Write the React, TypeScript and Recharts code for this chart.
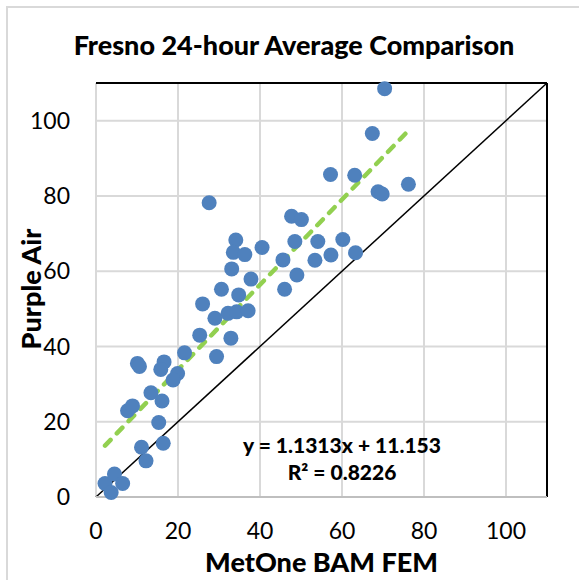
import React from 'react';
import {
  ScatterChart, Scatter, XAxis, YAxis, CartesianGrid, ReferenceLine,
} from 'recharts';

// MetOne BAM FEM (x) vs Purple Air (y), 24-hour averages
const bamFem = [
  2.2, 4.5, 3.7, 6.5, 11.1, 12.2, 16.4, 15.3, 7.7, 8.9,
  13.4, 16.1, 10.1, 10.6, 16.6, 15.8, 19.9, 18.8, 21.6, 25.3,
  29.4, 32.9, 27.6, 34.1, 33.5, 36.3, 40.5, 33.1, 37.8, 30.6,
  34.8, 26.0, 29.0, 32.2, 34.3, 37.1, 47.7, 50.1, 48.5, 54.1,
  45.6, 53.4, 57.3, 49.0, 46.0, 70.4, 67.4, 57.2, 63.1, 68.8,
  69.8, 76.2, 60.2, 63.3,
];
const purpleAir = [
  3.6, 6.1, 1.2, 3.6, 13.2, 9.6, 14.3, 19.8, 22.9, 24.2,
  27.7, 25.5, 35.5, 34.7, 35.9, 33.9, 32.8, 31.1, 38.3, 43.0,
  37.3, 42.2, 78.2, 68.3, 65.0, 64.4, 66.3, 60.6, 57.9, 55.2,
  53.7, 51.3, 47.5, 48.8, 49.2, 49.5, 74.6, 73.7, 67.9, 67.9,
  63.0, 62.9, 64.3, 59.0, 55.2, 108.5, 96.6, 85.7, 85.5, 81.1,
  80.5, 83.1, 68.4, 64.9,
];
const ticks = [0, 20, 40, 60, 80, 100];
const axisMax = 110;
const slope = 1.1313;
const intercept = 11.153;
const rSquared = 0.8226;

const points = bamFem.map((x, i) => ({ x, y: purpleAir[i] }));
const xMin = Math.min(...bamFem);
const xMax = Math.max(...bamFem);

const FONT = 'Lato, "Open Sans", sans-serif';

const Dot = (props: any) => (
  <circle cx={props.cx} cy={props.cy} r={7.5} fill="#4F81BD" />
);

export default function App() {
  return (
    <div style={{ position: 'absolute', left: 0, top: 0, width: 579, height: 580, background: '#fff', fontFamily: FONT, color: '#000' }}>
      <div style={{ position: 'absolute', left: 6, top: 6, width: 600, height: 600, borderTop: '2px solid #d9d9d9', borderLeft: '2px solid #d9d9d9' }} />
      <ScatterChart width={579} height={580} margin={{ top: 83, right: 32, bottom: 53, left: 0 }} style={{ position: 'absolute', left: 0, top: 0 }}>
        <CartesianGrid stroke="#d9d9d9" strokeWidth={2} />
        <XAxis
          type="number" dataKey="x" domain={[0, axisMax]} ticks={ticks} height={30}
          tickLine={false} tickSize={0} tickMargin={26}
          axisLine={{ stroke: '#bfbfbf', strokeWidth: 2 }}
          tick={{ fontFamily: FONT, fontSize: 23, fill: '#000' }}
        />
        <YAxis
          type="number" dataKey="y" domain={[0, axisMax]} ticks={ticks} width={96}
          tickLine={false} tickSize={0} tickMargin={26} axisLine={false}
          tick={{ fontFamily: FONT, fontSize: 23, fill: '#000' }}
        />
        <Scatter data={points} shape={Dot} isAnimationActive={false} />
        <ReferenceLine y={axisMax} stroke="#000" strokeWidth={2} />
        <ReferenceLine x={axisMax} stroke="#000" strokeWidth={2} />
        <ReferenceLine segment={[{ x: 0, y: 0 }, { x: axisMax, y: axisMax }]} stroke="#000" strokeWidth={1.5} />
        <ReferenceLine
          segment={[{ x: xMin, y: slope * xMin + intercept }, { x: xMax, y: slope * xMax + intercept }]}
          stroke="#92D050" strokeWidth={4.5} strokeDasharray="8 9" strokeLinecap="round"
        />
      </ScatterChart>
      <div style={{ position: 'absolute', left: 0, width: 588, top: 28, textAlign: 'center', fontWeight: 900, fontSize: 27, lineHeight: '33px' }}>
        Fresno 24-hour Average Comparison
      </div>
      <div style={{ position: 'absolute', left: 96, width: 451, top: 546, textAlign: 'center', fontWeight: 900, fontSize: 27, lineHeight: '32px' }}>
        MetOne BAM FEM
      </div>
      <div style={{ position: 'absolute', left: 31, top: 289, width: 0, height: 0 }}>
        <div style={{ position: 'absolute', left: -100, top: -16, width: 200, textAlign: 'center', fontWeight: 900, fontSize: 27, lineHeight: '32px', transform: 'rotate(-90deg)', whiteSpace: 'nowrap' }}>
          Purple Air
        </div>
      </div>
      <div style={{ position: 'absolute', left: 192, width: 300, top: 431, textAlign: 'center', fontWeight: 900, fontSize: 21, lineHeight: '27px' }}>
        <div>y = {slope}x + {intercept}</div>
        <div>R² = {rSquared}</div>
      </div>
    </div>
  );
}
